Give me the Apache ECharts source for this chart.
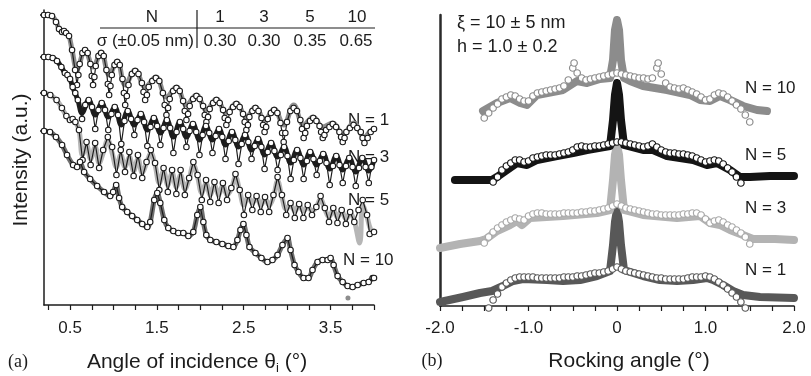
<!DOCTYPE html>
<html>
<head>
<meta charset="utf-8">
<script src="https://cdn.jsdelivr.net/npm/echarts@6/dist/echarts.min.js"></script>
<style>
  html, body { margin: 0; padding: 0; background: #fff; }
  #chart { width: 811px; height: 376px; }
</style>
</head>
<body>
<div id="chart"></div>
<script>
// ---- panel (a): specular reflectivity, curves offset vertically (a.u.) ----
const thetaTicks = [0.25, 0.5, 0.75, 1, 1.25, 1.5, 1.75, 2, 2.25, 2.5, 2.75, 3, 3.25, 3.5, 3.75, 4];
const thetaLabels = [0.5, 1.5, 2.5, 3.5];
const offsetTicks = [290, 248, 212, 174];

// measured (thick) and fitted (open circles) curves, [theta, intensity]
const refl1Meas = [[0.200,290],[0.246,290],[0.292,289],[0.338,284],[0.373,276],[0.408,273],[0.431,274],[0.454,272],[0.488,269],[0.523,255],[0.58,236],[0.673,255],[0.765,238],[0.858,253],[0.95,230],[1.043,244],[1.135,220],[1.25,235],[1.365,218],[1.488,228],[1.61,208],[1.725,218],[1.84,200],[1.955,210],[2.07,195],[2.185,206],[2.30,192],[2.415,202],[2.53,188],[2.635,198],[2.74,185],[2.85,196],[2.96,180],[3.075,200],[3.19,180],[3.30,188],[3.41,178],[3.525,182],[3.64,170],[3.765,182],[3.89,168],[3.96,174],[4.0,176]];
const refl1Fit = [[0.200,290],[0.246,290],[0.292,289],[0.338,283],[0.373,276],[0.408,273],[0.431,274],[0.454,272],[0.488,269],[0.523,255],[0.558,235],
  [0.58,220],[0.596,230],[0.611,241],[0.642,252],[0.673,255],[0.703,252],[0.734,241],[0.75,229],
  [0.765,220],[0.78,228],[0.796,239],[0.827,249],[0.858,252],[0.888,249],[0.919,235],[0.935,221],
  [0.95,210],[0.965,219],[0.981,230],[1.012,240],[1.043,243],[1.073,240],[1.104,226],[1.12,212],
  [1.135,200],[1.154,209],[1.173,220],[1.212,231],[1.25,234],[1.288,231],[1.327,222],[1.346,213],
  [1.365,205],[1.385,210],[1.406,218],[1.447,224],[1.488,227],[1.528,224],[1.569,212],[1.59,200],
  [1.61,190],[1.629,197],[1.648,206],[1.687,214],[1.725,217],[1.763,214],[1.802,204],[1.821,194],
  [1.84,185],[1.859,191],[1.878,199],[1.917,206],[1.955,209],[1.993,206],[2.032,199],[2.051,190],
  [2.07,183],[2.089,188],[2.108,196],[2.147,202],[2.185,205],[2.223,202],[2.262,195],[2.281,187],
  [2.30,180],[2.319,185],[2.338,193],[2.377,198],[2.415,201],[2.453,198],[2.492,191],[2.511,183],
  [2.53,175],[2.548,180],[2.565,188],[2.60,194],[2.635,197],[2.67,194],[2.705,187],[2.723,180],
  [2.74,173],[2.758,178],[2.777,186],[2.813,192],[2.85,195],[2.887,192],[2.923,182],[2.942,172],
  [2.96,163],[2.979,172],[2.998,183],[3.037,194],[3.075,197],[3.113,194],[3.152,185],[3.171,176],
  [3.19,167],[3.208,172],[3.227,179],[3.263,184],[3.30,187],[3.337,184],[3.373,179],[3.391,173],
  [3.41,167],[3.429,170],[3.448,175],[3.487,178],[3.525,181],[3.563,178],[3.602,173],[3.621,168],
  [3.64,163],[3.661,167],[3.682,173],[3.723,177],[3.765,180],[3.807,177],[3.848,173],[3.869,167],
  [3.89,162],[3.927,167],[3.962,173],[4.0,176]];

const refl3Meas = [[0.20,248],[0.25,248],[0.30,247],[0.35,244],[0.40,238],[0.44,232],[0.47,230],[0.50,226],[0.53,218],[0.59,205],[0.638,192],[0.715,205],[0.79,190],[0.865,202],[0.94,188],[1.015,198],[1.09,180],[1.165,194],[1.24,180],[1.315,191],[1.39,175],[1.465,187],[1.54,172],[1.615,185],[1.69,168],[1.765,183],[1.84,168],[1.915,181],[1.99,165],[2.065,179],[2.14,165],[2.215,176],[2.29,160],[2.365,173],[2.44,158],[2.515,170],[2.59,155],[2.665,166],[2.74,150],[2.815,162],[2.89,148],[2.965,158],[3.04,142],[3.115,155],[3.19,140],[3.265,153],[3.34,140],[3.415,151],[3.49,136],[3.565,149],[3.64,135],[3.715,147],[3.79,133],[3.865,147],[3.94,134],[4.0,145]];
const refl3Fit = [[0.20,248],[0.25,248],[0.30,247],[0.35,244],[0.40,238],[0.44,232],[0.47,230],[0.50,226],[0.53,218],[0.56,212],[0.59,205],[0.638,186],
  [0.675,200],[0.715,205],[0.753,198],[0.79,176],
  [0.827,195],[0.865,202],[0.903,195],[0.94,175],
  [0.977,191],[1.015,198],[1.053,190],[1.09,161],
  [1.127,184],[1.165,194],[1.203,186],[1.24,170],
  [1.277,185],[1.315,191],[1.353,183],[1.39,159],
  [1.427,178],[1.465,187],[1.503,179],[1.54,160],
  [1.577,177],[1.615,185],[1.653,177],[1.69,152],
  [1.727,173],[1.765,183],[1.803,176],[1.84,158],
  [1.877,174],[1.915,181],[1.953,173],[1.99,150],
  [2.027,170],[2.065,179],[2.103,172],[2.14,152],
  [2.177,169],[2.215,176],[2.253,168],[2.29,146],
  [2.327,164],[2.365,173],[2.403,165],[2.44,141],
  [2.477,161],[2.515,170],[2.553,163],[2.59,146],
  [2.627,159],[2.665,166],[2.703,158],[2.74,136],
  [2.777,153],[2.815,162],[2.853,154],[2.89,135],
  [2.927,150],[2.965,158],[3.003,149],[3.04,126],
  [3.077,145],[3.115,155],[3.153,147],[3.19,126],
  [3.227,144],[3.265,153],[3.303,146],[3.34,130],
  [3.377,144],[3.415,151],[3.453,142],[3.49,120],
  [3.527,139],[3.565,149],[3.603,140],[3.64,122],
  [3.677,139],[3.715,147],[3.753,138],[3.79,119],
  [3.827,137],[3.865,147],[3.903,138],[3.94,122],
  [3.97,138],[4.0,145]];

const refl5Meas = [[0.20,212],[0.272,210],[0.345,205],[0.406,197],[0.458,189],[0.499,185],[0.53,186],[0.561,183],[0.603,175],[0.644,150],[0.69,160],[0.737,146],[0.789,158],[0.835,142],[0.881,152],[0.935,165],[0.985,152],[1.034,138],[1.084,150],[1.133,138],[1.183,148],[1.232,134],[1.282,146],[1.331,132],[1.381,142],[1.43,152],[1.479,140],[1.528,122],[1.577,134],[1.626,120],[1.675,132],[1.724,118],[1.773,130],[1.822,116],[1.871,126],[1.92,140],[1.969,128],[2.017,112],[2.066,122],[2.114,110],[2.163,120],[2.211,110],[2.26,120],[2.308,110],[2.357,116],[2.405,128],[2.454,114],[2.502,100],[2.551,108],[2.599,102],[2.648,108],[2.696,100],[2.745,106],[2.793,100],[2.842,108],[2.89,124],[2.94,108],[2.989,96],[3.039,100],[3.088,94],[3.138,100],[3.187,94],[3.237,98],[3.286,94],[3.336,98],[3.385,106],[3.434,96],[3.482,88],[3.531,95],[3.579,88],[3.628,94],[3.676,86],[3.725,92],[3.773,84],[3.835,62],[3.87,100],[3.92,88],[3.96,76],[4.0,74]];
const refl5Fit = [[0.20,212],[0.272,210],[0.345,205],[0.406,197],[0.458,189],[0.499,185],[0.53,186],[0.561,183],[0.603,175],[0.644,145],[0.69,163],[0.737,140],[0.789,162],[0.835,137],[0.881,155],[0.935,168],
  [0.985,158],[1.034,130],[1.084,155],[1.133,133],[1.183,153],[1.232,129],[1.282,150],[1.331,127],[1.381,143],[1.43,155],
  [1.479,142],[1.528,115],[1.577,137],[1.626,113],[1.675,135],[1.724,111],[1.773,135],[1.822,110],[1.871,127],[1.92,143],
  [1.969,130],[2.017,105],[2.066,125],[2.114,103],[2.163,123],[2.211,102],[2.26,122],[2.308,105],[2.357,117],[2.405,131],
  [2.454,115],[2.502,90],[2.551,110],[2.599,95],[2.648,109],[2.696,93],[2.745,108],[2.793,93],[2.842,110],[2.89,128],
  [2.94,110],[2.989,90],[3.039,102],[3.088,87],[3.138,101],[3.187,87],[3.237,100],[3.286,90],[3.336,98],[3.385,109],
  [3.434,97],[3.482,83],[3.531,97],[3.579,82],[3.628,95],[3.676,81],[3.725,93],[3.773,83],[3.822,95],[3.87,105],
  [3.92,90],[3.95,71],[4.0,73]];

const refl10 = [[0.200,174],[0.269,173],[0.338,168],[0.408,160],[0.465,150],[0.535,140],[0.581,138],[0.615,143],[0.662,133],[0.731,126],
  [0.812,119],[0.892,113],[0.962,109],[0.996,113],[1.031,120],[1.065,107],[1.100,98],[1.158,93],[1.215,89],[1.273,85],
  [1.331,81],[1.389,78],[1.423,83],[1.469,105],[1.504,112],[1.539,102],[1.585,85],[1.631,77],[1.689,74],[1.746,72],
  [1.804,72],[1.862,69],[1.919,73],[1.965,90],[2.000,98],[2.035,83],[2.069,70],[2.115,65],[2.185,63],[2.254,61],
  [2.323,59],[2.381,58],[2.427,65],[2.462,75],[2.496,81],[2.531,70],[2.566,58],[2.635,52],[2.704,47],[2.773,43],
  [2.831,45],[2.889,50],[2.946,60],[3.004,67],[3.039,55],[3.085,40],[3.131,33],[3.189,27],[3.246,27],[3.292,35],
  [3.350,43],[3.408,45],[3.466,45],[3.500,47],[3.535,40],[3.581,29],[3.639,23],[3.696,19],[3.754,18],[3.812,20],
  [3.881,22],[3.939,23],[3.985,27],[4.000,27]];
const refl10Stray = [[3.70,7]];

// ---- panel (b): rocking curves, offset vertically (a.u.) ----
const rockLabels = [-2, -1, 0, 1, 2];

const rock10Meas = [[-1.514,195],[-1.356,203],[-1.209,208],[-1.096,203],[-1.017,201],[-0.904,211],[-0.610,216],[-0.452,225],[-0.339,223],[-0.192,227],[-0.079,228],[-0.045,246],[-0.023,276],[0,286],[0.023,276],[0.045,246],[0.079,228],[0.147,225],[0.294,220],[0.565,216],[0.825,211],[0.938,206],[1.051,205],[1.164,210],[1.277,206],[1.424,200],[1.582,196],[1.695,195]];
const rock10Fit = [[-1.50,188],[-1.45,193],[-1.40,198],[-1.35,202],[-1.30,207],[-1.25,209],[-1.20,211],[-1.15,210],[-1.10,207],[-1.05,205],[-1.00,205],[-0.95,210],[-0.90,213],[-0.85,214],[-0.80,215],[-0.75,216],[-0.70,217],[-0.65,218],[-0.60,220],[-0.55,226],[-0.50,238],[-0.485,243],[-0.45,233],[-0.40,228],[-0.35,226],[-0.30,227],[-0.25,228],[-0.20,229],[-0.15,230],[-0.10,231],[-0.05,232],[0,233],[0.05,232],[0.10,231],[0.15,230],[0.20,229],[0.25,228],[0.30,228],[0.35,227],[0.40,228],[0.45,238],[0.465,243],[0.50,232],[0.55,223],[0.60,219],[0.65,218],[0.70,217],[0.75,218],[0.80,216],[0.85,214],[0.90,212],[0.95,209],[1.00,206],[1.05,207],[1.10,211],[1.15,213],[1.20,212],[1.25,209],[1.30,205],[1.35,201],[1.40,197],[1.45,191],[1.50,184]];

const rock5Meas = [[-1.831,126],[-1.661,126],[-1.492,126],[-1.412,126],[-1.356,129],[-1.243,136],[-1.130,143],[-1.017,141],[-0.904,146],[-0.678,150],[-0.497,153],[-0.339,156],[-0.079,160],[-0.045,186],[-0.023,211],[0,223],[0.023,211],[0.045,186],[0.079,161],[0.294,156],[0.407,156],[0.565,150],[0.859,146],[1.017,141],[1.130,143],[1.277,136],[1.390,129],[1.503,129],[1.729,130],[2.0,130]];
const rock5Fit = [[-1.40,124],[-1.35,129],[-1.30,136],[-1.25,140],[-1.20,143],[-1.15,146],[-1.10,146],[-1.05,144],[-1.00,145],[-0.95,148],[-0.90,149],[-0.85,150],[-0.80,151],[-0.75,151],[-0.70,151],[-0.65,152],[-0.60,153],[-0.55,154],[-0.50,156],[-0.45,159],[-0.40,160],[-0.35,159],[-0.30,159],[-0.25,160],[-0.20,160],[-0.15,161],[-0.10,162],[-0.05,163],[0,164],[0.05,164],[0.10,163],[0.15,162],[0.20,161],[0.25,160],[0.30,159],[0.35,160],[0.40,162],[0.45,159],[0.50,156],[0.55,154],[0.60,153],[0.65,153],[0.70,152],[0.75,152],[0.80,151],[0.85,150],[0.90,148],[0.95,146],[1.00,144],[1.05,145],[1.10,146],[1.15,145],[1.20,142],[1.25,138],[1.30,134],[1.35,129],[1.40,123]];

const rock3Meas = [[-2.0,58],[-1.774,62],[-1.548,65],[-1.480,67],[-1.356,75],[-1.209,81],[-1.130,85],[-1.073,81],[-0.983,88],[-0.610,90],[-0.226,93],[-0.079,96],[-0.045,126],[-0.023,151],[0,160],[0.023,151],[0.045,126],[0.079,96],[0.294,91],[0.678,88],[0.938,90],[1.051,83],[1.164,81],[1.277,76],[1.424,71],[1.537,67],[1.785,67],[2.0,66]];
const rock3Fit = [[-1.50,63],[-1.45,69],[-1.40,74],[-1.35,78],[-1.30,81],[-1.25,84],[-1.20,86],[-1.15,88],[-1.10,87],[-1.05,86],[-1.00,90],[-0.95,92],[-0.90,93],[-0.85,93],[-0.80,92],[-0.75,92],[-0.70,92],[-0.65,92],[-0.60,93],[-0.55,93],[-0.50,93],[-0.45,93],[-0.40,94],[-0.35,94],[-0.30,95],[-0.25,95],[-0.20,96],[-0.15,97],[-0.10,98],[-0.05,100],[0,102],[0.05,100],[0.10,98],[0.15,97],[0.20,96],[0.25,95],[0.30,94],[0.35,93],[0.40,92],[0.45,92],[0.50,91],[0.55,91],[0.60,91],[0.65,91],[0.70,91],[0.75,92],[0.80,92],[0.85,93],[0.90,93],[0.95,91],[1.00,87],[1.05,83],[1.10,85],[1.15,86],[1.20,84],[1.25,81],[1.30,79],[1.35,76],[1.40,73],[1.45,69],[1.50,62]];

const rock1Meas = [[-2.0,4],[-1.740,9],[-1.548,13],[-1.412,15],[-1.288,20],[-1.175,25],[-1.062,27],[-0.791,26],[-0.610,25],[-0.418,26],[-0.226,30],[-0.079,35],[-0.045,61],[-0.023,84],[0,96],[0.023,84],[0.045,61],[0.079,36],[0.294,30],[0.486,26],[0.678,25],[0.859,26],[1.017,28],[1.085,26],[1.198,21],[1.311,15],[1.424,11],[1.616,9],[2.0,8]];
const rock1Fit = [[-1.45,-2],[-1.40,6],[-1.35,12],[-1.30,19],[-1.25,23],[-1.20,26],[-1.15,28],[-1.10,29],[-1.05,29],[-1.00,29],[-0.95,29],[-0.90,28],[-0.85,28],[-0.80,28],[-0.75,28],[-0.70,28],[-0.65,28],[-0.60,29],[-0.55,29],[-0.50,29],[-0.45,30],[-0.40,30],[-0.35,31],[-0.30,32],[-0.25,33],[-0.20,33],[-0.15,34],[-0.10,35],[-0.05,37],[0,39],[0.05,37],[0.10,35],[0.15,34],[0.20,33],[0.25,32],[0.30,31],[0.35,30],[0.40,29],[0.45,28],[0.50,28],[0.55,27],[0.60,27],[0.65,27],[0.70,27],[0.75,27],[0.80,28],[0.85,29],[0.90,29],[0.95,29],[1.00,30],[1.05,29],[1.10,27],[1.15,24],[1.20,21],[1.25,17],[1.30,13],[1.35,9],[1.40,4],[1.45,-2]];

const FONT = 'Liberation Sans, Arial, sans-serif';
const INK = '#1c1c1c';

function thick(data, color, width, axis, smooth) {
  return {
    type: 'line', xAxisIndex: axis, yAxisIndex: axis, data, z: 2,
    symbol: 'none', smooth: smooth || false, silent: true, clip: false,
    lineStyle: { color, width, cap: 'round', join: 'round' },
  };
}

function chain(data, axis) {
  return {
    type: 'line', xAxisIndex: axis, yAxisIndex: axis, data, z: 3,
    symbol: 'circle', symbolSize: 5.5, showSymbol: true, silent: true, clip: false,
    lineStyle: { color: INK, width: 1.2 },
    itemStyle: { color: '#fff', borderColor: INK, borderWidth: 1.1 },
  };
}

function rings(data, border, axis) {
  return {
    type: 'scatter', xAxisIndex: axis, yAxisIndex: axis, data, z: 4,
    symbol: 'circle', symbolSize: 6.5, silent: true, clip: false,
    itemStyle: { color: '#fff', borderColor: border, borderWidth: 1.2, opacity: 1 },
  };
}

function label(text, x, y, opts) {
  return {
    type: 'text', x, y, silent: true,
    style: Object.assign({
      text, fill: INK, fontSize: 17, fontFamily: FONT,
      align: 'left', verticalAlign: 'middle',
    }, opts || {}),
  };
}

const chart = echarts.init(document.getElementById('chart'), null, { renderer: 'canvas' });

const axisLine = { show: true, onZero: false, lineStyle: { color: INK, width: 1.5 } };

const yTitle = label('Intensity (a.u.)', 21, 160, { fontSize: 21, align: 'center' });
yTitle.rotation = Math.PI / 2;

chart.setOption({
  animation: false,
  backgroundColor: '#fff',
  textStyle: { fontFamily: FONT },
  grid: [
    { left: 44, right: 437, top: 10, bottom: 71 },
    { left: 440, right: 17, top: 15, bottom: 70 },
  ],
  xAxis: [
    {
      type: 'value', gridIndex: 0, min: 0.2, max: 4.0,
      axisLine,
      axisTick: { show: true, customValues: thetaTicks, length: 5, lineStyle: { color: INK, width: 1.2 } },
      axisLabel: { customValues: thetaLabels, formatter: (v) => v.toFixed(1), fontSize: 17, color: INK, margin: 15 },
      splitLine: { show: false },
    },
    {
      type: 'value', gridIndex: 1, min: -2, max: 2, interval: 0.25,
      axisLine,
      axisTick: { show: true, length: 5, lineStyle: { color: INK, width: 1.2 } },
      axisLabel: {
        customValues: rockLabels,
        formatter: (v) => (v === 0 ? '0' : v.toFixed(1)),
        fontSize: 17, color: INK, margin: 14,
      },
      splitLine: { show: false },
    },
  ],
  yAxis: [
    {
      type: 'value', gridIndex: 0, min: 0, max: 295,
      axisLine,
      axisTick: { show: true, customValues: offsetTicks, length: 4, lineStyle: { color: INK, width: 1.5 } },
      axisLabel: { show: false },
      splitLine: { show: false },
    },
    {
      type: 'value', gridIndex: 1, min: 0, max: 291,
      axisLine: { show: true, onZero: false, lineStyle: { color: '#2a2a2a', width: 2.5 } },
      axisTick: { show: false },
      axisLabel: { show: false },
      splitLine: { show: false },
    },
  ],
  series: [
    thick(refl1Meas, '#8e8e8e', 5, 0, 0.4),
    chain(refl1Fit, 0),
    thick(refl3Meas, '#1e1e1e', 5, 0, 0.4),
    chain(refl3Fit, 0),
    thick(refl5Meas, '#b6b6b6', 5, 0, 0.4),
    chain(refl5Fit, 0),
    thick(refl10, '#707070', 5, 0, 0.3),
    chain(refl10, 0),
    {
      type: 'scatter', xAxisIndex: 0, yAxisIndex: 0, data: refl10Stray,
      symbolSize: 5, silent: true, itemStyle: { color: '#707070' },
    },

    thick(rock1Meas, '#585858', 8, 1),
    rings(rock1Fit, '#585858', 1),
    thick(rock3Meas, '#b3b3b3', 8, 1),
    rings(rock3Fit, '#a8a8a8', 1),
    thick(rock5Meas, '#141414', 8, 1),
    rings(rock5Fit, '#141414', 1),
    thick(rock10Meas, '#8c8c8c', 8, 1),
    rings(rock10Fit, '#8c8c8c', 1),
  ],
  graphic: [
    // table of roughness values
    { type: 'line', silent: true, shape: { x1: 100, y1: 28, x2: 375, y2: 28 }, style: { stroke: INK, lineWidth: 1.2 } },
    { type: 'line', silent: true, shape: { x1: 197, y1: 10, x2: 197, y2: 48 }, style: { stroke: INK, lineWidth: 1.2 } },
    label('N', 152, 17, { align: 'center' }),
    label('1', 220, 17, { align: 'center' }),
    label('3', 264, 17, { align: 'center' }),
    label('5', 310, 17, { align: 'center' }),
    label('10', 357, 17, { align: 'center' }),
    label('σ (±0.05 nm)', 194, 41, { align: 'right' }),
    label('0.30', 220, 41, { align: 'center' }),
    label('0.30', 264, 41, { align: 'center' }),
    label('0.35', 310, 41, { align: 'center' }),
    label('0.65', 356, 41, { align: 'center' }),

    label('N = 1', 348, 120),
    label('N = 3', 348, 157),
    label('N = 5', 348, 200),
    label('N = 10', 343, 260),

    label('ξ = 10 ± 5 nm', 457, 23, { fontSize: 18 }),
    label('h = 1.0 ± 0.2', 457, 47, { fontSize: 18 }),
    label('N = 10', 745, 88),
    label('N = 5', 745, 155),
    label('N = 3', 745, 208),
    label('N = 1', 745, 270),

    yTitle,
    label('(a)', 18, 362, { fontSize: 18, align: 'center', fontFamily: 'Liberation Serif, serif' }),
    {
      type: 'text', x: 197, y: 362, silent: true,
      style: {
        text: 'Angle of incidence θ{sub|i} (°)',
        fill: INK, fontSize: 21, fontFamily: FONT, align: 'center', verticalAlign: 'middle',
        lineHeight: 26,
        rich: { sub: { fontSize: 13, fontFamily: FONT, fill: INK, verticalAlign: 'bottom', lineHeight: 13 } },
      },
    },
    label('(b)', 432, 361, { fontSize: 18, align: 'center', fontFamily: 'Liberation Serif, serif' }),
    label('Rocking angle (°)', 629, 361, { fontSize: 21, align: 'center' }),
  ],
});
</script>
</body>
</html>
